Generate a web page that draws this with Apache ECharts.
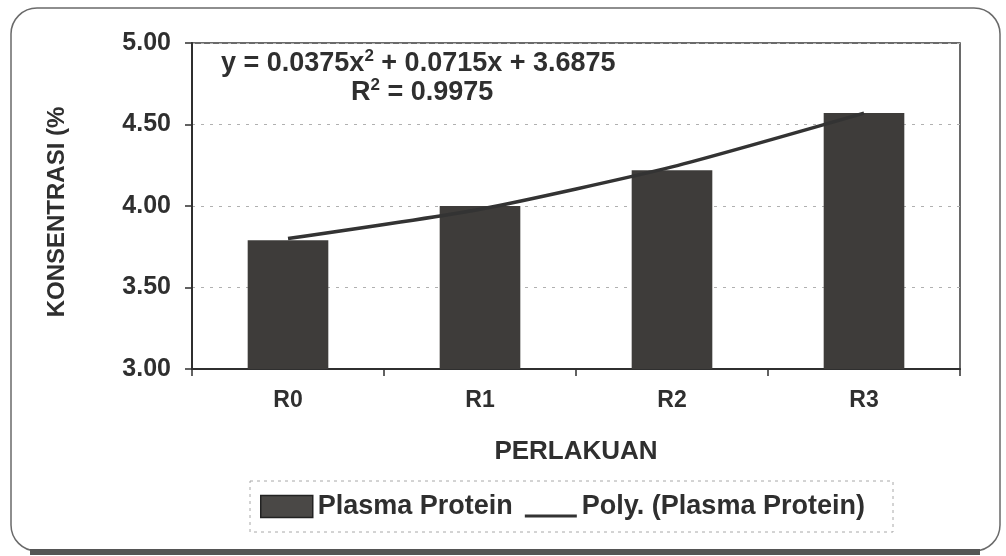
<!DOCTYPE html>
<html>
<head>
<meta charset="utf-8">
<script src="https://cdn.jsdelivr.net/npm/echarts@6/dist/echarts.min.js"></script>
<style>html,body{margin:0;padding:0;background:#fff}#c{width:1006px;height:556px}</style>
</head>
<body>
<div id="c"></div>
<script>
const categories = ['R0', 'R1', 'R2', 'R3'];
const plasmaProtein = [3.79, 4.00, 4.22, 4.57];
const polyTrend = [3.80, 3.98, 4.24, 4.57];
const yMin = 3.0, yMax = 5.0, yStep = 0.5;
const barName = 'Plasma Protein';
const lineName = 'Poly. (Plasma Protein)';
const equationText = '{a|y = 0.0375x}{s|2}{a| + 0.0715x + 3.6875}';
const r2Text = '{a|R}{s|2}{a| = 0.9975}';
const yTitle = 'KONSENTRASI (%';
const xTitle = 'PERLAKUAN';

const FONT = '"Liberation Sans", Arial, sans-serif';
const TXT = '#2f2f2f';
const chart = echarts.init(document.getElementById('c'));
const richStyle = {
  a: { fontFamily: FONT, fontWeight: 'bold', fontSize: 27, color: TXT, lineHeight: 31 },
  s: { fontFamily: FONT, fontWeight: 'bold', fontSize: 17, color: TXT, lineHeight: 17, verticalAlign: 'top' }
};
chart.setOption({
  backgroundColor: '#ffffff',
  animation: false,
  title: [
    { text: equationText, left: 221, top: 48, padding: 0, textStyle: { rich: richStyle } },
    { text: r2Text, left: 351, top: 77, padding: 0, textStyle: { rich: richStyle } }
  ],
  graphic: [
    { type: 'rect', z: -1, shape: { x: 11, y: 8, width: 989, height: 543, r: 26 },
      style: { fill: 'none', stroke: '#6a6a6a', lineWidth: 1.5 } },
    { type: 'line', z: -1, shape: { x1: 30, y1: 552, x2: 980, y2: 552 },
      style: { stroke: '#555', lineWidth: 6 } },
    { type: 'rect', z: -1, shape: { x: 250, y: 481, width: 643, height: 51 },
      style: { fill: 'none', stroke: '#a8a8a8', lineWidth: 1, lineDash: [3, 4] } },
    { type: 'text', x: 57, y: 212, rotation: Math.PI / 2,
      style: { text: yTitle, fontFamily: FONT, fontWeight: 'bold', fontSize: 24, fill: TXT,
               textAlign: 'center', textVerticalAlign: 'middle' } }
  ],
  grid: { left: 192, right: 46, top: 43, bottom: 187, show: true, borderColor: '#3a3a3a', borderWidth: 1.5 },
  legend: {
    left: 251, top: 481,
    padding: [10, 12, 10, 9],
    itemGap: 12, itemWidth: 52, itemHeight: 22,
    textStyle: { fontFamily: FONT, fontWeight: 'bold', fontSize: 27, color: TXT, lineHeight: 31 },
    data: [
      { name: barName, icon: 'rect', itemStyle: { color: '#4a4846', borderColor: '#222', borderWidth: 1.5 } },
      { name: lineName, icon: 'path://M0,0L0.01,0L0.01,0.01Z M0,19L52,19L52,22L0,22Z', itemStyle: { color: '#333', borderWidth: 0 } }
    ]
  },
  xAxis: {
    type: 'category', data: categories, boundaryGap: true,
    name: xTitle, nameLocation: 'middle', nameGap: 70,
    nameTextStyle: { fontFamily: FONT, fontWeight: 'bold', fontSize: 26, color: TXT },
    axisLine: { lineStyle: { color: '#2f2f2f', width: 2 } },
    axisTick: { show: true, length: 7, lineStyle: { color: '#2f2f2f', width: 1.5 } },
    axisLabel: { margin: 20, fontFamily: FONT, fontWeight: 'bold', fontSize: 23, color: TXT },
    splitLine: { show: false }
  },
  yAxis: {
    type: 'value', min: yMin, max: yMax, interval: yStep,
    axisLine: { show: true, lineStyle: { color: '#2f2f2f', width: 2 } },
    axisTick: { show: true, length: 7, lineStyle: { color: '#2f2f2f', width: 1.5 } },
    axisLabel: { margin: 21, fontFamily: FONT, fontWeight: 'bold', fontSize: 25, color: TXT,
                 formatter: v => v.toFixed(2) },
    splitLine: { show: true, lineStyle: { color: '#b0b0b0', type: [3, 6], width: 1 } }
  },
  series: [
    { name: barName, type: 'bar', data: plasmaProtein, barWidth: '42%',
      itemStyle: { color: '#3e3c3a' }, z: 2 },
    { name: lineName, type: 'line', data: polyTrend, symbol: 'none', smooth: 0.2,
      itemStyle: { color: '#333' },
      lineStyle: { color: '#333', width: 3.5 }, z: 3 }
  ]
});
</script>
</body>
</html>
